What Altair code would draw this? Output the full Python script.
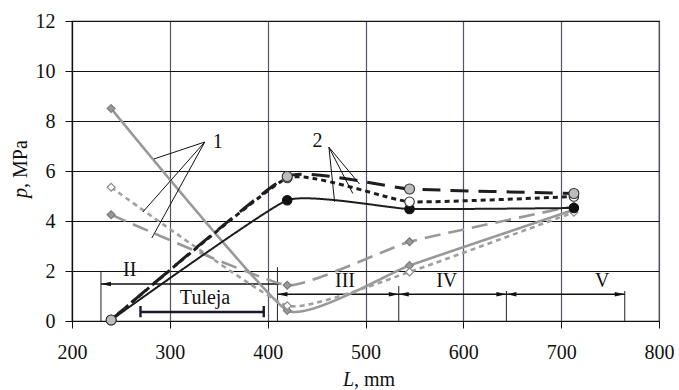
import altair as alt
import pandas as pd

# ---- data ----
L_pts = [240, 420, 545, 713]
gray_solid = [8.5, 0.42, 2.22, 4.45]
gray_dotted = [5.35, 0.61, 1.96, 4.35]
gray_dashed = [4.25, 1.43, 3.17, 4.6]
black_solid = [0.04, 4.83, 4.48, 4.52]
black_dotted = [0.04, 5.72, 4.77, 4.98]
black_dashed = [0.04, 5.78, 5.28, 5.1]

x_ticks = [200, 300, 400, 500, 600, 700, 800]
y_ticks = [0, 2, 4, 6, 8, 10, 12]

# zone markers (II..V)
zone_bounds = [229.6, 410, 534, 644, 765]
zone_bound_tops = [2.0, 2.15, 1.4, 1.2, 1.2]
zone_names = ["II", "III", "IV", "V"]
zone_label_L = [259, 479, 583, 742]
zone_label_p = [2.04, 1.62, 1.62, 1.62]
zone_arrow_p = [1.48, 1.07, 1.07, 1.07]
zone_arrow_end_II = 412

# sleeve (Tuleja)
tuleja_L = [270, 396]
tuleja_p = 0.36
tuleja_cap = [0.15, 0.6]
tuleja_label = ("Tuleja", 336, 0.92)

# leader lines to the series groups
leader1_apex = (335.7, 7.16)
leader1_ends = [(283.7, 6.48), (272.4, 4.36), (281.6, 3.32)]
leader2_apex = (462.6, 6.95)
leader2_ends = [(468.4, 4.77), (487.0, 5.1), (493.9, 5.48)]
group_labels = [("1", 349, 7.16), ("2", 451, 7.2)]

# axis titles (italic symbol + unit)
x_title = ("L", ", mm")
y_title = ("p", ",  MPa")

FONT = "Liberation Serif"

xs = alt.Scale(domain=[200, 800], nice=False, zero=False)
ys = alt.Scale(domain=[0, 12], nice=False)
X = alt.X("L:Q", scale=xs, axis=alt.Axis(values=x_ticks, title=None, labelFlush=False))
Y = alt.Y("p:Q", scale=ys, axis=alt.Axis(values=y_ticks, title=None, labelFlush=False))

series = [
    (gray_solid, "#999999", 2.6, [1, 0], "diamond", "#999999", "#808080", 64),
    (gray_dotted, "#a0a0a0", 2.6, [5, 4], "diamond", "#ffffff", "#888888", 64),
    (gray_dashed, "#999999", 2.6, [16, 8], "diamond", "#9a9a9a", "#777777", 64),
    (black_solid, "#1e1e1e", 2.0, [1, 0], "circle", "#111111", "#111111", 90),
    (black_dotted, "#1e1e1e", 3.0, [5, 4], "circle", "#ffffff", "#333333", 90),
    (black_dashed, "#1e1e1e", 3.0, [18, 10], "circle", "#bdbdbd", "#333333", 100),
]

line_layers = []
point_layers = []
for vals, col, w, dash, shape, fill, stroke, size in series:
    df = pd.DataFrame({"L": L_pts, "p": vals})
    line_layers.append(
        alt.Chart(df).mark_line(interpolate="cardinal", tension=0.6, color=col, strokeWidth=w,
                                strokeDash=dash).encode(x=X, y=Y)
    )
    point_layers.append(
        alt.Chart(df).mark_point(shape=shape, filled=True, fill=fill, stroke=stroke,
                                 strokeWidth=1.1, size=size, opacity=1).encode(x=X, y=Y)
    )

# vertical boundary rules
vb = pd.DataFrame({"L": zone_bounds, "p": [0] * len(zone_bounds), "p2": zone_bound_tops})
vrules = alt.Chart(vb).mark_rule(color="#222222", strokeWidth=1).encode(x=X, y=Y, y2="p2:Q")

# horizontal arrows
h_rows = [{"L": zone_bounds[0], "L2": zone_arrow_end_II, "p": zone_arrow_p[0]}]
for i in range(1, 4):
    h_rows.append({"L": zone_bounds[i], "L2": zone_bounds[i + 1], "p": zone_arrow_p[i]})
hdf = pd.DataFrame(h_rows)
hrules = alt.Chart(hdf).mark_rule(color="#111111", strokeWidth=1.3).encode(x=X, x2="L2:Q", y=Y)

left_heads = pd.DataFrame({"L": [zone_bounds[0]] + zone_bounds[1:4], "p": zone_arrow_p})
right_heads = pd.DataFrame({"L": zone_bounds[2:5], "p": zone_arrow_p[1:4]})
lh = alt.Chart(left_heads).mark_point(shape="M0,0L2,-0.45L2,0.45Z", filled=True, color="#111111",
                                      size=100, opacity=1).encode(x=X, y=Y)
rh = alt.Chart(right_heads).mark_point(shape="M0,0L-2,-0.45L-2,0.45Z", filled=True, color="#111111",
                                       size=100, opacity=1).encode(x=X, y=Y)

zone_txt = alt.Chart(pd.DataFrame({"L": zone_label_L, "p": zone_label_p, "t": zone_names})).mark_text(
    font=FONT, fontSize=20, color="#111111").encode(x=X, y=Y, text="t:N")

# Tuleja bar
tdf = pd.DataFrame({"L": [tuleja_L[0]], "L2": [tuleja_L[1]], "p": [tuleja_p]})
tbar = alt.Chart(tdf).mark_rule(color="#1a1a2a", strokeWidth=2.6).encode(x=X, x2="L2:Q", y=Y)
tcaps_df = pd.DataFrame({"L": tuleja_L, "p": [tuleja_cap[0]] * 2, "p2": [tuleja_cap[1]] * 2})
tcaps = alt.Chart(tcaps_df).mark_rule(color="#1a1a2a", strokeWidth=2.4).encode(x=X, y=Y, y2="p2:Q")
ttxt = alt.Chart(pd.DataFrame({"L": [tuleja_label[1]], "p": [tuleja_label[2]], "t": [tuleja_label[0]]})).mark_text(
    font=FONT, fontSize=20, color="#111111").encode(x=X, y=Y, text="t:N")

# leaders
lrows = []
for apex, ends in [(leader1_apex, leader1_ends), (leader2_apex, leader2_ends)]:
    for e in ends:
        lrows.append({"L": apex[0], "p": apex[1], "L2": e[0], "p2": e[1]})
ldf = pd.DataFrame(lrows)
leaders = alt.Chart(ldf).mark_rule(color="#111111", strokeWidth=1).encode(x=X, y=Y, x2="L2:Q", y2="p2:Q")
gtxt = alt.Chart(pd.DataFrame({"t": [g[0] for g in group_labels], "L": [g[1] for g in group_labels],
                               "p": [g[2] for g in group_labels]})).mark_text(
    font=FONT, fontSize=20, color="#111111").encode(x=X, y=Y, text="t:N")

# axis titles as text (italic quantity symbol)
one = pd.DataFrame({"k": [0]})
xt1 = alt.Chart(one).mark_text(text=x_title[0], font=FONT, fontSize=20, fontStyle="italic",
                               align="right", baseline="alphabetic", color="#111111").encode(
    x=alt.value(282), y=alt.value(365))
xt2 = alt.Chart(one).mark_text(text=x_title[1], font=FONT, fontSize=20,
                               align="left", baseline="alphabetic", color="#111111").encode(
    x=alt.value(282), y=alt.value(365))
yt1 = alt.Chart(one).mark_text(text=y_title[0], font=FONT, fontSize=20, fontStyle="italic", angle=270,
                               align="right", baseline="alphabetic", color="#111111").encode(
    x=alt.value(-45), y=alt.value(167))
yt2 = alt.Chart(one).mark_text(text=y_title[1], font=FONT, fontSize=20, angle=270,
                               align="left", baseline="alphabetic", color="#111111").encode(
    x=alt.value(-45), y=alt.value(167))

chart = alt.layer(
    vrules, hrules, lh, rh, zone_txt, tbar, tcaps, ttxt,
    *line_layers, *point_layers, leaders, gtxt, xt1, xt2, yt1, yt2
).properties(
    width=587, height=300,
    autosize=alt.AutoSizeParams(type="none"),
    padding={"left": 72, "top": 21, "right": 20, "bottom": 69},
).configure_view(
    stroke="#111111", strokeWidth=1.2
).configure_axis(
    labelFont=FONT, labelFontSize=20, labelColor="#111111",
    tickColor="#111111", tickSize=7, domainColor="#111111", domainWidth=1.2,
    grid=True, gridOpacity=1,
).configure_axisX(
    gridColor="#555566", gridWidth=1.2, labelPadding=14,
).configure_axisY(
    gridColor="#111111", gridWidth=1, labelPadding=10,
)

chart.save("out.html", embed_options={"renderer": "svg", "actions": False})
